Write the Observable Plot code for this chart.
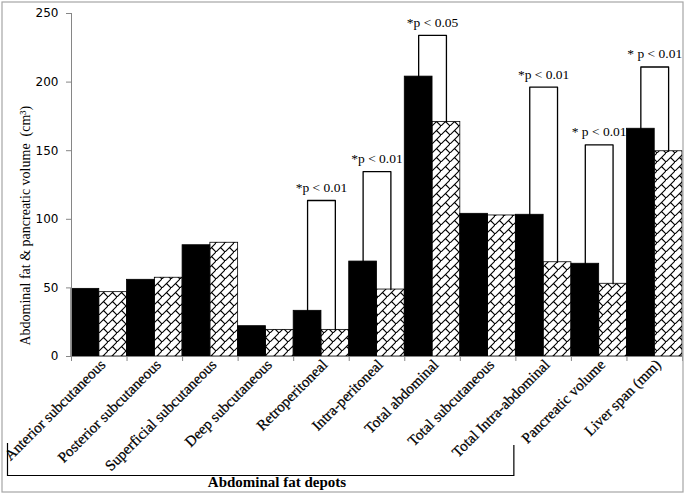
<!DOCTYPE html>
<html>
<head>
<meta charset="utf-8">
<script src="https://cdn.jsdelivr.net/npm/d3@7"></script>
<script src="https://cdn.jsdelivr.net/npm/@observablehq/plot@0.6"></script>
<style>
  html, body { margin: 0; padding: 0; background: #fff; }
  #chart { width: 686px; height: 495px; }
</style>
</head>
<body>
<div id="chart"></div>
<script>
// ---- data ----
const categories = [
  "Anterior subcutaneous", "Posterior subcutaneous", "Superficial subcutaneous",
  "Deep subcutaneous", "Retroperitoneal", "Intra-peritoneal", "Total abdominal",
  "Total subcutaneous", "Total Intra-abdominal", "Pancreatic volume", "Liver span (mm)"
];
const solidValues   = [49.3, 55.9, 81.1, 22.1, 33.3, 69.2, 204.0, 104.0, 103.3, 67.6, 166.0];
const hatchedValues = [46.9, 57.4, 82.9, 19.4, 19.4, 48.8, 171.0, 102.8, 68.7, 53.0, 149.6];
const sigCategories = ["Retroperitoneal", "Intra-peritoneal", "Total abdominal",
  "Total Intra-abdominal", "Pancreatic volume", "Liver span (mm)"];
const sigTops   = [113.7, 134.8, 234.0, 196.3, 154.3, 211.0];
const sigLabels = ["*p < 0.01", "*p < 0.01", "*p < 0.05", "*p < 0.01", "* p < 0.01", "* p < 0.01"];
const yTicks = [0, 50, 100, 150, 200, 250];
const yTitle = "Abdominal fat & pancreatic volume  (cm³)";
const groupLabel = "Abdominal fat depots";
const groupSpan = [0, 8]; // categories covered by the bottom bracket

// ---- derived tables ----
const solidRows = categories.map((c, i) => ({cat: c, x1: i, x2: i + 0.5, v: solidValues[i]}));
const hatchRows = categories.map((c, i) => ({cat: c, x1: i + 0.5, x2: i + 1, v: hatchedValues[i]}));
const bracketPts = [];
const annRows = [];
sigCategories.forEach((c, k) => {
  const i = categories.indexOf(c);
  bracketPts.push({z: c, x: i + 0.25, y: solidValues[i]});
  bracketPts.push({z: c, x: i + 0.25, y: sigTops[k]});
  bracketPts.push({z: c, x: i + 0.75, y: sigTops[k]});
  bracketPts.push({z: c, x: i + 0.75, y: hatchedValues[i]});
  annRows.push({x: i + 0.5, y: sigTops[k], label: sigLabels[k]});
});

const serif = "'Liberation Serif', 'Times New Roman', serif";
const sans = "'DejaVu Sans', Verdana, sans-serif";
const axisGray = "#868686";

const chart = Plot.plot({
  width: 686,
  height: 495,
  marginLeft: 71,
  marginRight: 4,
  marginTop: 13,
  marginBottom: 139,
  style: {background: "#fff", overflow: "visible"},
  x: {domain: [0, categories.length], axis: null},
  y: {domain: [0, 250], axis: null},
  marks: [
    Plot.rectY(hatchRows, {x1: "x1", x2: "x2", y: "v", fill: "url(#brick)", stroke: "#000", strokeWidth: 0.8}),
    Plot.rectY(solidRows, {x1: "x1", x2: "x2", y: "v", fill: "#000", stroke: "#000", strokeWidth: 0.8}),
    Plot.line(bracketPts, {x: "x", y: "y", z: "z", stroke: "#000", strokeWidth: 1.3, curve: "linear"}),
    Plot.text(annRows, {x: "x", y: "y", text: "label", dy: -13, fontFamily: serif, fontSize: 13.5, fill: "#000", ariaLabel: "annotation"}),
    Plot.ruleX([0], {stroke: axisGray}),
    Plot.ruleY([0], {stroke: axisGray}),
    Plot.axisY({ticks: yTicks, tickSize: 5, tickPadding: 8, fontFamily: sans, fontSize: 12, label: null, stroke: axisGray, color: "#000"}),
    Plot.axisX({ticks: d3.range(0, categories.length + 1), tickSize: 5, tickFormat: () => "", label: null, stroke: axisGray}),
    Plot.text(categories, {x: (d, i) => i + 0.5, frameAnchor: "bottom", text: d => d, rotate: -45, textAnchor: "end", dx: 7, dy: 9, fontFamily: serif, fontSize: 15, fill: "#000", stroke: "#000", strokeWidth: 0.25})
  ]
});

const svg = d3.select(chart);

// pattern definition for the hatched bars
const defs = svg.insert("defs", ":first-child");
const pat = defs.append("pattern")
  .attr("id", "brick").attr("patternUnits", "userSpaceOnUse")
  .attr("width", 9).attr("height", 9);
pat.append("rect").attr("width", 9).attr("height", 9).attr("fill", "#fff");
pat.append("path").attr("d", "M-1,10L10,-1M4.5,4.5L9,9").attr("stroke", "#000").attr("stroke-width", 1.1).attr("fill", "none");

// annotation styling: superscript asterisk, italic p
svg.selectAll('g[aria-label="annotation"] text').each(function() {
  const t = this.textContent;
  const m = t.match(/^(\*)(\s?)(p)(.*)$/);
  if (!m) return;
  const el = d3.select(this);
  el.text(null);
  el.append("tspan").attr("font-size", 9).attr("dy", "-0.35em").text(m[1] + m[2]);
  el.append("tspan").attr("font-style", "italic").attr("dy", "0.35em").text(m[3]);
  el.append("tspan").text(m[4]);
});

// y-axis title
const ys = chart.scale("y");
svg.append("text")
  .attr("transform", `translate(27,${ys.apply(95)}) rotate(-90)`)
  .attr("text-anchor", "middle").attr("dominant-baseline", "middle")
  .attr("font-family", serif).attr("font-size", 14).attr("fill", "#000")
  .text(yTitle);

// bottom bracket for the abdominal fat depots group
const xs = chart.scale("x");
const xRight = xs.apply(groupSpan[1]);
const g = svg.append("g");
g.append("path")
  .attr("d", `M7.5,443V475.5H${xRight - 1.5}V445`)
  .attr("fill", "none").attr("stroke", "#000").attr("stroke-width", 1.2);
g.append("text")
  .attr("x", 277).attr("y", 487)
  .attr("text-anchor", "middle")
  .attr("font-family", serif).attr("font-size", 15).attr("font-weight", "bold")
  .text(groupLabel);

// outer frame
svg.append("rect").attr("x", 2).attr("y", 2).attr("width", 681).attr("height", 490)
  .attr("fill", "none").attr("stroke", "#a6a6a6").attr("stroke-width", 1.2);

document.getElementById("chart").appendChild(chart);
</script>
</body>
</html>
